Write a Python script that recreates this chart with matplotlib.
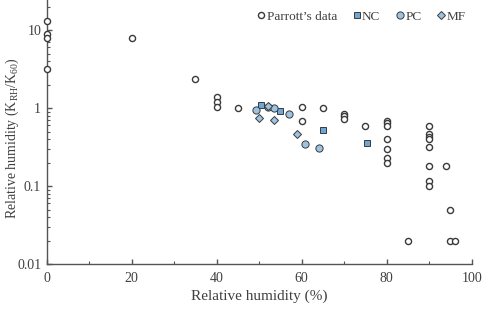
import matplotlib
matplotlib.use("Agg")
import matplotlib.pyplot as plt
from matplotlib.ticker import LogLocator, FixedLocator, NullFormatter, FuncFormatter

# Parrott's data
parrott_x = [0, 0, 0, 0, 20, 35, 40, 40, 40, 45, 60, 60, 65, 70, 70, 70, 75,
             80, 80, 80, 80, 80, 80, 80, 85, 90, 90, 90, 90, 90, 90, 90, 90,
             94, 95, 95, 96]
parrott_y = [13, 8.8, 7.9, 3.2, 7.9, 2.33, 1.40, 1.20, 1.02, 1.0, 1.04, 0.69, 1.0,
             0.85, 0.79, 0.72, 0.59,
             0.68, 0.64, 0.59, 0.40, 0.30, 0.23, 0.20, 0.02,
             0.59, 0.46, 0.43, 0.40, 0.32, 0.18, 0.116, 0.10,
             0.18, 0.050, 0.02, 0.02]
# NC
nc_x = [50.5, 55, 65, 75.3]
nc_y = [1.08, 0.91, 0.52, 0.36]
# PC
pc_x = [49.3, 52, 53.4, 57, 60.8, 64]
pc_y = [0.94, 1.03, 1.0, 0.85, 0.35, 0.31]
# MF
mf_x = [50, 52.1, 53.4, 58.8]
mf_y = [0.75, 1.06, 0.70, 0.46]

plt.rcParams['font.family'] = ['Liberation Serif', 'DejaVu Serif']
plt.rcParams['mathtext.fontset'] = 'custom'
plt.rcParams['mathtext.rm'] = 'Liberation Serif'
plt.rcParams['mathtext.it'] = 'Liberation Serif:italic'
txt = '#404040'
fig = plt.figure(figsize=(4.93, 3.10), dpi=100)
ax = fig.add_axes([0.0947, 0.148, 0.862, 0.852])

edge = '#3a3a3a'
ax.plot(parrott_x, parrott_y, 'o', ms=4.4, mfc='white', mec=edge, mew=1.0,
        label="Parrott\u2019s data", clip_on=False, zorder=3)
ax.plot(nc_x, nc_y, 's', ms=4.6, mfc='#6ea6d6', mec=edge, mew=0.7, label='NC', zorder=4)
ax.plot(pc_x, pc_y, 'o', ms=5.2, mfc='#9cc3e2', mec=edge, mew=0.7, label='PC', zorder=4)
ax.plot(mf_x, mf_y, 'D', ms=4.2, mfc='#9cc3e2', mec=edge, mew=0.7, label='MF', zorder=5)

ax.set_yscale('log')
ax.set_xlim(0, 100)
ax.set_ylim(0.01, 10 ** 1.385)
for s in ['top', 'right']:
    ax.spines[s].set_visible(False)
for s in ['left', 'bottom']:
    ax.spines[s].set_color('#555555')
    ax.spines[s].set_linewidth(1.0)

ax.xaxis.set_major_locator(FixedLocator([0, 20, 40, 60, 80, 100]))
ax.xaxis.set_minor_locator(FixedLocator([10, 30, 50, 70, 90]))
ax.yaxis.set_major_locator(FixedLocator([0.01, 0.1, 1, 10]))
ax.yaxis.set_major_formatter(FuncFormatter(lambda v, p: {0.01: '0.01', 0.1: '0.1', 1: '1', 10: '10'}.get(round(v, 3), '')))
ax.yaxis.set_minor_locator(LogLocator(base=10, subs=range(2, 10)))
ax.yaxis.set_minor_formatter(NullFormatter())
ax.tick_params(which='both', direction='in', colors='#555555', labelcolor=txt, labelsize=10)
ax.tick_params(axis='x', which='major', pad=6)
ax.tick_params(axis='y', which='major', pad=4)
ax.tick_params(which='major', length=3.5, width=1.0)
ax.tick_params(which='minor', length=2.0, width=0.8)

ax.set_xlabel('Relative humidity (%)', fontsize=11, color=txt, labelpad=3)
fig.text(12 / 493, 1 - 138 / 310, 'Relative humidity (K$_{\\mathrm{RH}}$/K$_{60}$)',
         rotation=90, ha='center', va='center', fontsize=10, color=txt)

leg = ax.legend(loc='upper right', bbox_to_anchor=(1.005, 0.99), ncol=4, frameon=False,
                fontsize=9.5, handlelength=0.6, handletextpad=0.1, columnspacing=1.2,
                borderaxespad=0.2)
for t in leg.get_texts():
    t.set_color(txt)

fig.savefig('out.png', dpi=100)
